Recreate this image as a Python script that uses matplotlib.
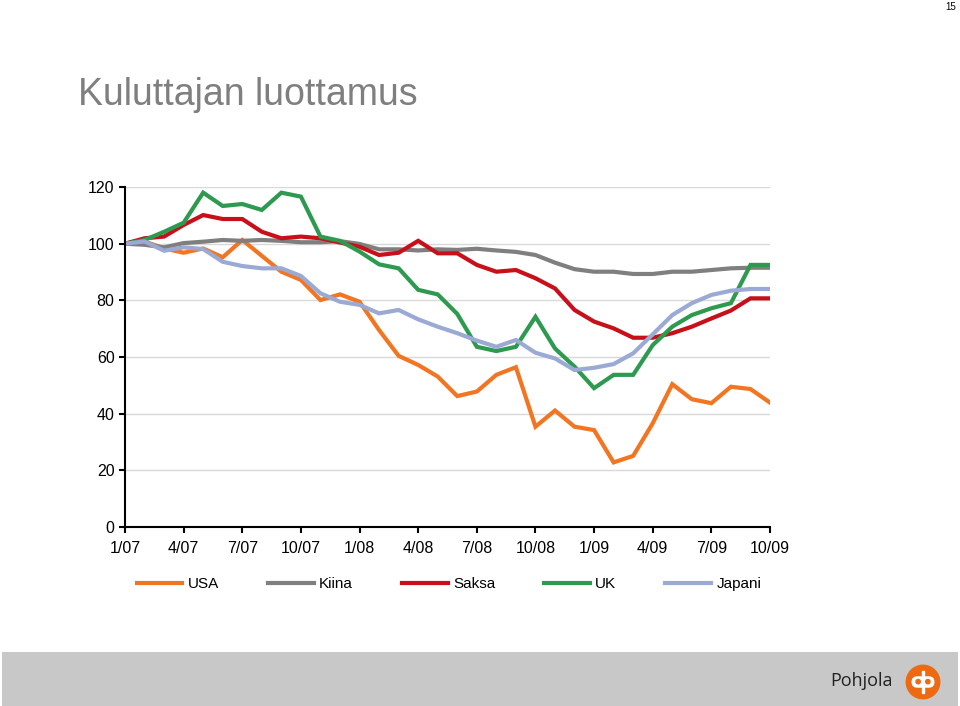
import numpy as np
import matplotlib
matplotlib.use("Agg")
import matplotlib.pyplot as plt
import matplotlib.patches as mpatches

plt.rcParams['font.family'] = ['Liberation Sans', 'DejaVu Sans']

# monthly index values, 1/07 .. 10/09
tick_labels = ["1/07", "4/07", "7/07", "10/07", "1/08", "4/08",
               "7/08", "10/08", "1/09", "4/09", "7/09", "10/09"]

usa = [100, 100.8, 98.3, 96.8, 98.3, 95.2, 101.3, 95.7, 90.1, 87.2, 80.1, 82.1,
       79.5, 69.5, 60.4, 57.2, 53.1, 46.2, 47.8, 53.7, 56.4, 35.4, 41.1, 35.4,
       34.2, 22.8, 25.1, 36.6, 50.4, 45.1, 43.7, 49.5, 48.7, 43.9]
kiina = [100, 99.6, 98.7, 100.2, 100.7, 101.3, 101, 101.3, 101, 100.5, 100.5, 100.9,
         99.9, 98, 98, 97.6, 98, 97.8, 98.2, 97.6, 97.1, 96, 93.3, 91,
         90.1, 90.1, 89.3, 89.3, 90.1, 90.1, 90.7, 91.3, 91.5, 91.5]
saksa = [100, 101.9, 102.5, 106.6, 110.1, 108.7, 108.7, 104.2, 101.9, 102.5, 101.9, 100.4,
         98.9, 96, 96.8, 101, 96.6, 96.6, 92.5, 90.1, 90.7, 87.8, 84.2, 76.6,
         72.5, 70.1, 66.8, 66.8, 68.4, 70.7, 73.6, 76.4, 80.7, 80.7]
uk = [100, 101.3, 104.2, 107.4, 118, 113.3, 114, 111.9, 118, 116.6, 102.5, 101,
      97.2, 92.7, 91.3, 83.7, 82.1, 75.2, 63.6, 62.1, 63.6, 74.2, 63, 56.6,
      49, 53.7, 53.7, 64.2, 70.7, 74.8, 77.2, 79, 92.5, 92.5]
japani = [100, 100.8, 97.5, 98.7, 98.1, 93.6, 92.1, 91.3, 91.3, 88.6, 82.5, 79.5,
          78.4, 75.4, 76.6, 73.3, 70.7, 68.4, 65.8, 63.6, 66, 61.5, 59.5, 55.4,
          56.2, 57.5, 61.3, 68, 74.8, 79, 81.9, 83.4, 84, 84]

series = [("USA", usa, '#F27522'), ("Kiina", kiina, '#7F7F7F'),
          ("Saksa", saksa, '#C8101A'), ("UK", uk, '#2E9A50'),
          ("Japani", japani, '#9AAAD4')]

fig = plt.figure(figsize=(9.6, 7.06), dpi=100)
fig.patch.set_facecolor('white')

ax = fig.add_axes([125/960, 1 - 527/706, 645/960, 340/706])
x = np.arange(len(usa))
for name, vals, col in series:
    ax.plot(x, vals, color=col, lw=3, label=name, solid_joinstyle='miter')

ax.set_xlim(0, len(usa) - 1)
ax.set_ylim(0, 120)
ax.set_yticks(range(0, 121, 20))
ax.set_xticks(range(0, len(usa), 3))
ax.set_xticklabels(tick_labels)
ax.grid(axis='y', color='#D9D9D9', lw=1)
ax.set_axisbelow(True)
for s in ['top', 'right']:
    ax.spines[s].set_visible(False)
ax.spines['left'].set_linewidth(1.5)
ax.spines['bottom'].set_linewidth(1.5)
ax.tick_params(axis='both', labelsize=11.5, length=4, width=1.5, direction='out', colors='black')
ax.tick_params(axis='x', pad=6)

fig.legend(loc='center', bbox_to_anchor=(449/960, 1 - 584/706), ncol=5,
           frameon=False, fontsize=11, handlelength=3.0, handletextpad=0.35,
           columnspacing=3.2)

fig.text(78/960, 1 - 95/706, "Kuluttajan luottamus", fontsize=27,
         color='#7F7F7F', va='center', ha='left')
fig.text(951/960, 1 - 7/706, "15", fontsize=7, ha='center', va='center')

# footer band
fig.patches.append(mpatches.Rectangle((2/960, 0), 956/960, 54/706,
                                      transform=fig.transFigure,
                                      facecolor='#C8C8C8', edgecolor='none', zorder=-1))
fig.text(862/960, 1 - 681/706, "Pohjola", fontsize=13, color='#222222',
         ha='center', va='center', family=['Open Sans', 'DejaVu Sans'])

# logo
lax = fig.add_axes([(923 - 18)/960, 1 - (682 + 18)/706, 36/960, 36/706])
lax.set_zorder(5)
lax.set_xlim(-1, 1)
lax.set_ylim(-1, 1)
lax.set_aspect('equal')
lax.axis('off')
lax.add_patch(mpatches.Circle((0, 0), 0.93, color='#EE6A12'))
lax.add_patch(mpatches.FancyBboxPatch((-0.52, -0.2), 1.04, 0.4,
                                      boxstyle='round,pad=0.08,rounding_size=0.28',
                                      color='white'))
lax.add_patch(mpatches.Rectangle((-0.08, -0.6), 0.16, 1.2, color='white'))
lax.add_patch(mpatches.Circle((-0.27, 0.02), 0.12, color='#EE6A12'))
lax.add_patch(mpatches.Circle((0.27, 0.02), 0.12, color='#EE6A12'))

fig.savefig("out.png", dpi=100)
